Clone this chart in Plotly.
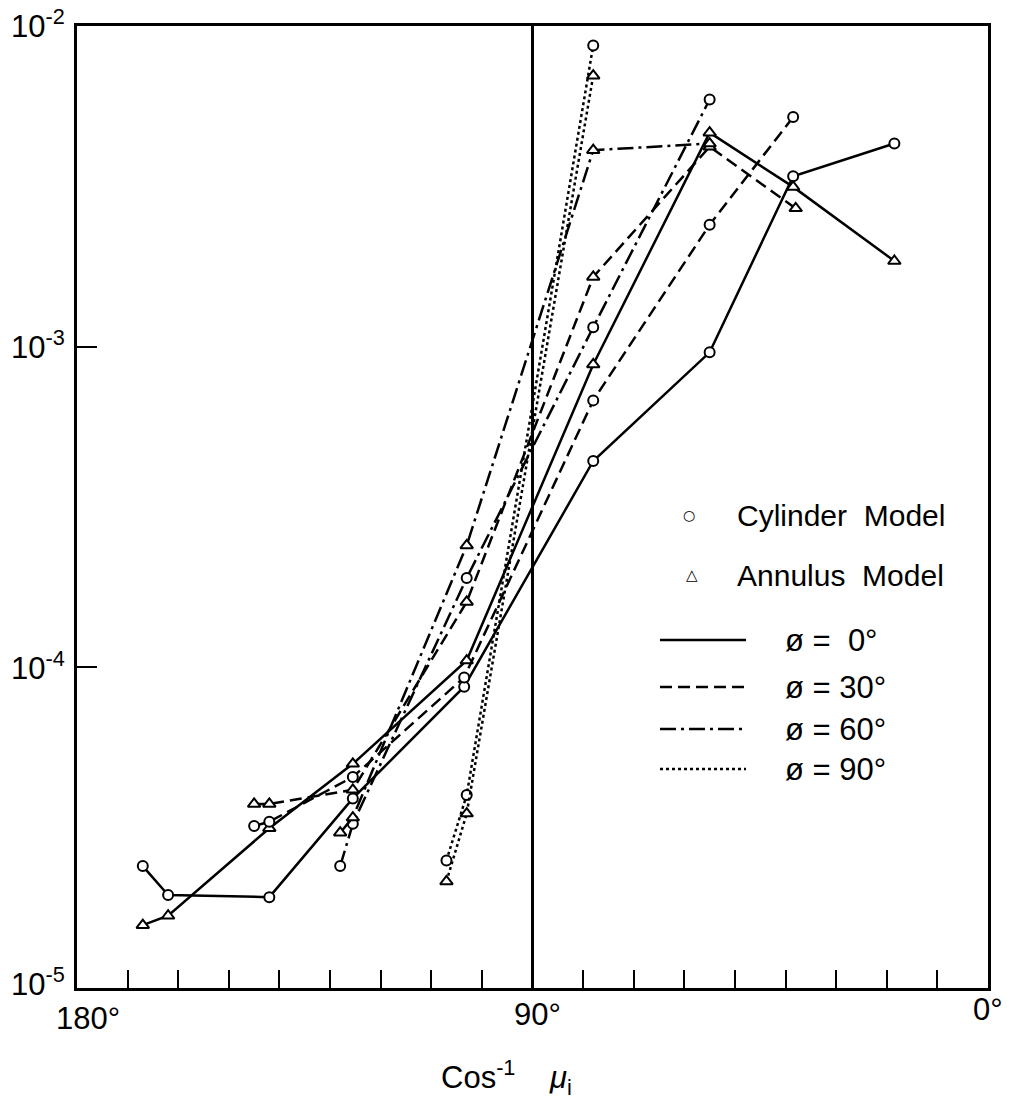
import plotly.graph_objects as go

# ---- data (angle in degrees = cos^-1 mu_i, value) ----
cyl0_x = [167, 162, 142, 125.5, 103.5, 78, 55, 38.5, 18.5]
cyl0_y = [2.4e-5, 1.95e-5, 1.92e-5, 3.9e-5, 8.7e-5, 4.4e-4, 9.6e-4, 3.4e-3, 4.3e-3]

ann0_x = [167, 162, 142, 125.5, 103, 78, 55, 38.5, 18.5]
ann0_y = [1.57e-5, 1.68e-5, 3.15e-5, 5.0e-5, 1.05e-4, 8.8e-4, 4.65e-3, 3.15e-3, 1.85e-3]

cyl30_x = [145, 142, 125.5, 103.5, 78, 55, 38.5]
cyl30_y = [3.2e-5, 3.3e-5, 4.55e-5, 9.3e-5, 6.8e-4, 2.4e-3, 5.2e-3]

ann30_x = [145, 142, 125.5, 103, 78, 55, 38]
ann30_y = [3.75e-5, 3.75e-5, 4.15e-5, 1.6e-4, 1.65e-3, 4.2e-3, 2.7e-3]

cyl60_x = [128, 125.5, 103, 78, 55]
cyl60_y = [2.4e-5, 3.25e-5, 1.9e-4, 1.15e-3, 5.9e-3]

ann60_x = [128, 125.5, 103, 78, 55]
ann60_y = [3.05e-5, 3.4e-5, 2.4e-4, 4.1e-3, 4.3e-3]

cyl90_x = [107, 103, 78]
cyl90_y = [2.5e-5, 4.0e-5, 8.7e-3]

ann90_x = [107, 103, 78]
ann90_y = [2.15e-5, 3.5e-5, 7.0e-3]

x_tick_vals = list(range(170, 0, -10))
x_tick_labels = ["180°", "90°", "0°"]
y_labels = ["10<sup>-2</sup>", "10<sup>-3</sup>", "10<sup>-4</sup>", "10<sup>-5</sup>"]
legend_models = ["Cylinder  Model", "Annulus  Model"]
legend_phis = ["ø =  0°", "ø = 30°", "ø = 60°", "ø = 90°"]

DASH = {"0": "solid", "30": "12px,6px", "60": "16px,5px,3px,5px", "90": "3px,3px"}
FONT = "Liberation Sans"

series = [
    (cyl0_x, cyl0_y, "0", "circle"), (ann0_x, ann0_y, "0", "triangle-up"),
    (cyl30_x, cyl30_y, "30", "circle"), (ann30_x, ann30_y, "30", "triangle-up"),
    (cyl60_x, cyl60_y, "60", "circle"), (ann60_x, ann60_y, "60", "triangle-up"),
    (cyl90_x, cyl90_y, "90", "circle"), (ann90_x, ann90_y, "90", "triangle-up"),
]

fig = go.Figure()
for xs, ys, phi, sym in series:
    fig.add_trace(go.Scatter(
        x=xs, y=ys, mode="lines+markers",
        line=dict(color="black", width=2.5, dash=DASH[phi]),
        marker=dict(symbol=sym, size=10 if sym == "circle" else 11, color="white",
                    line=dict(color="black", width=2)),
        showlegend=False, hoverinfo="skip"))

W, H = 1009, 1115
L, R, T, B = 77, 21, 26, 127
pw, ph = W - L - R, H - T - B

def px(x):
    return (x - L) / pw

def py(y):
    return (T + ph - y) / ph

shapes = [
    dict(type="line", xref="x", yref="paper", x0=90, x1=90, y0=0, y1=1,
         line=dict(color="black", width=3)),
]
leg_y = [640, 687, 729, 769]
for phi, yy in zip(["0", "30", "60", "90"], leg_y):
    shapes.append(dict(type="line", xref="paper", yref="paper",
                       x0=px(660), x1=px(746), y0=py(yy), y1=py(yy),
                       line=dict(color="black", width=2.5, dash=DASH[phi])))

ann = []
tick_pos = [(88, 1018), (537, 1014), (988, 1009)]
for txt, (xx, yy) in zip(x_tick_labels, tick_pos):
    ann.append(dict(text=txt, xref="paper", yref="paper", x=px(xx), y=py(yy),
                    xanchor="center", yanchor="middle", showarrow=False,
                    font=dict(family=FONT, size=31, color="black")))
ylab_pos = [24, 345, 666, 982]
for txt, yy in zip(y_labels, ylab_pos):
    ann.append(dict(text=txt, xref="paper", yref="paper", x=px(9), y=py(yy),
                    xanchor="left", yanchor="middle", showarrow=False,
                    font=dict(family=FONT, size=31, color="black")))
ann.append(dict(text="Cos<sup>-1</sup>    <i>μ</i><sub>i</sub>", xref="paper", yref="paper",
                x=px(506), y=py(1077), xanchor="center", yanchor="middle", showarrow=False,
                font=dict(family=FONT, size=31, color="black")))
for txt, yy in zip(legend_models, [515, 575]):
    ann.append(dict(text=txt, xref="paper", yref="paper", x=px(735), y=py(yy),
                    xanchor="left", yanchor="middle", showarrow=False,
                    font=dict(family=FONT, size=30, color="black")))
for sym, xx, yy, sz in [("○", 689, 515, 14), ("△", 692, 575, 15)]:
    ann.append(dict(text=sym, xref="paper", yref="paper", x=px(xx), y=py(yy),
                    xanchor="center", yanchor="middle", showarrow=False,
                    font=dict(family="DejaVu Sans", size=sz, color="black")))
for txt, yy in zip(legend_phis, leg_y):
    ann.append(dict(text=txt, xref="paper", yref="paper", x=px(783), y=py(yy),
                    xanchor="left", yanchor="middle", showarrow=False,
                    font=dict(family=FONT, size=31, color="black")))

fig.update_layout(
    width=W, height=H, margin=dict(l=L, r=R, t=T, b=B, pad=0),
    paper_bgcolor="white", plot_bgcolor="white",
    shapes=shapes, annotations=ann,
    xaxis=dict(range=[180, 0], showgrid=False, zeroline=False,
               showline=True, linecolor="black", linewidth=3, mirror=True,
               tickvals=x_tick_vals, ticks="inside", ticklen=18, tickwidth=2,
               tickcolor="black", showticklabels=False),
    yaxis=dict(type="log", range=[-5, -2], showgrid=False, zeroline=False,
               showline=True, linecolor="black", linewidth=3, mirror=True,
               tickvals=[1e-3, 1e-4], ticks="inside", ticklen=20, tickwidth=2,
               tickcolor="black", showticklabels=False),
)

fig.write_html("out.html")
